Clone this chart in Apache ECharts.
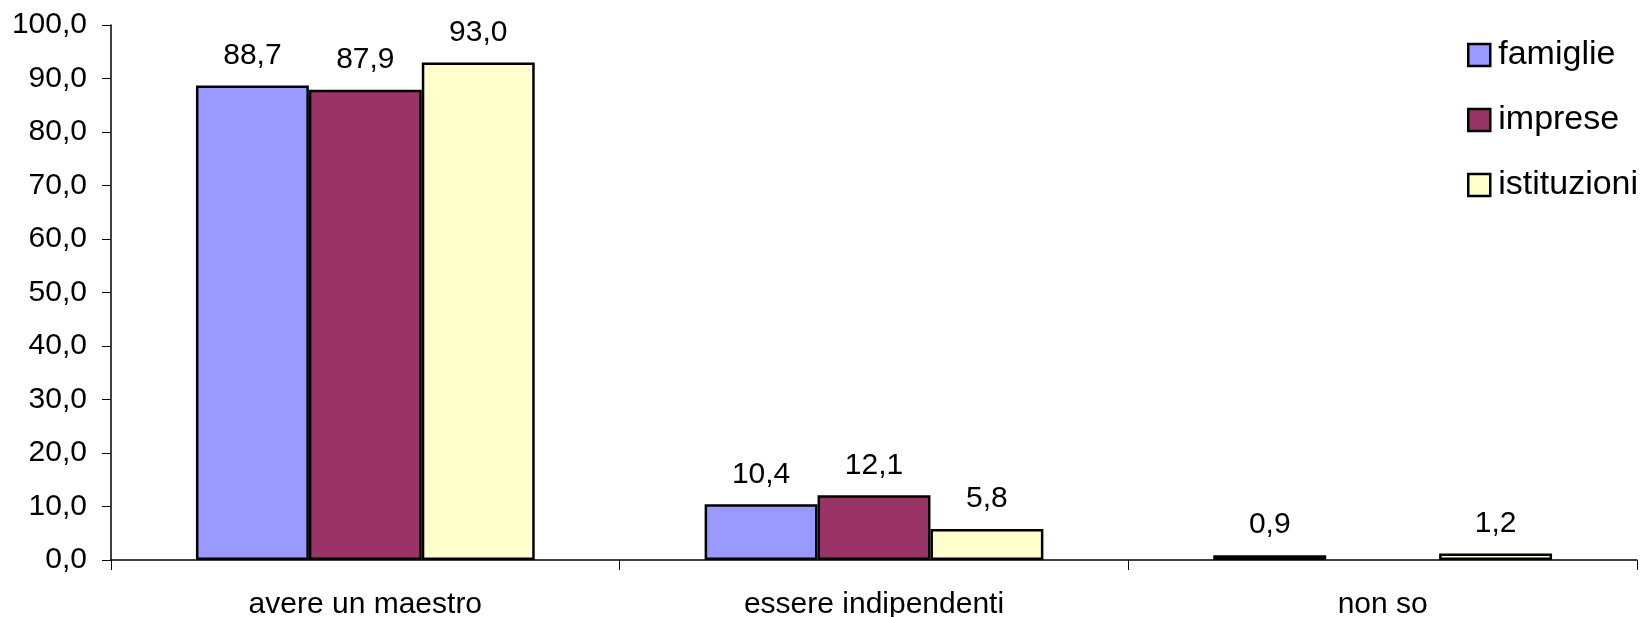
<!DOCTYPE html>
<html>
<head>
<meta charset="utf-8">
<script src="https://cdn.jsdelivr.net/npm/echarts@6/dist/echarts.min.js"></script>
<style>
  html, body { margin: 0; padding: 0; background: #fff; }
  #chart { width: 1642px; height: 617px; }
</style>
</head>
<body>
<div id="chart"></div>
<script>
// Categories and series values (percentages)
const categories = ['avere un maestro', 'essere indipendenti', 'non so'];
const famiglie = [88.7, 10.4, 0.9];
const imprese = [87.9, 12.1, null];
const istituzioni = [93.0, 5.8, 1.2];
const seriesNames = ['famiglie', 'imprese', 'istituzioni'];
const seriesColors = ['#9999FF', '#993366', '#FFFFCC'];

const FONT = '"Liberation Sans", Arial, sans-serif';
const fmt = v => Number(v).toFixed(1).replace('.', ',');

function makeSeries(name, data, color) {
  return {
    name: name,
    type: 'bar',
    data: data,
    barGap: '0%',
    barCategoryGap: '33.4%',
    itemStyle: { color: color, borderColor: '#000', borderWidth: 2.5 },
    label: {
      show: true,
      position: 'top',
      distance: 15,
      color: '#000',
      fontFamily: FONT,
      fontSize: 30,
      formatter: p => (p.value == null ? '' : fmt(p.value))
    },
    emphasis: { disabled: true }
  };
}

const chart = echarts.init(document.getElementById('chart'), null, { renderer: 'canvas' });
chart.setOption({
  animation: false,
  backgroundColor: '#fff',
  grid: { left: 111, right: 5, top: 25, bottom: 57, containLabel: false, outerBoundsMode: 'none' },
  legend: {
    orient: 'vertical',
    left: 1462,
    top: 33,
    itemWidth: 22,
    itemHeight: 22,
    itemGap: 31,
    icon: 'rect',
    itemStyle: { borderColor: '#000', borderWidth: 2.5 },
    textStyle: { fontFamily: FONT, fontSize: 34, color: '#000', padding: [0, 0, 0, 3] },
    data: seriesNames
  },
  xAxis: {
    type: 'category',
    data: categories,
    axisLine: { lineStyle: { color: '#000', width: 1.5 } },
    axisTick: { show: true, length: 10, inside: false, lineStyle: { color: '#000' } },
    axisLabel: { color: '#000', fontFamily: FONT, fontSize: 30, margin: 30 }
  },
  yAxis: {
    type: 'value',
    min: 0,
    max: 100,
    interval: 10,
    splitLine: { show: false },
    axisLine: { show: true, lineStyle: { color: '#000', width: 1.5 } },
    axisTick: { show: true, length: 9, lineStyle: { color: '#000' } },
    axisLabel: { color: '#000', fontFamily: FONT, fontSize: 30, margin: 24, formatter: v => fmt(v) }
  },
  series: [
    makeSeries(seriesNames[0], famiglie, seriesColors[0]),
    makeSeries(seriesNames[1], imprese, seriesColors[1]),
    makeSeries(seriesNames[2], istituzioni, seriesColors[2])
  ]
});
</script>
</body>
</html>
